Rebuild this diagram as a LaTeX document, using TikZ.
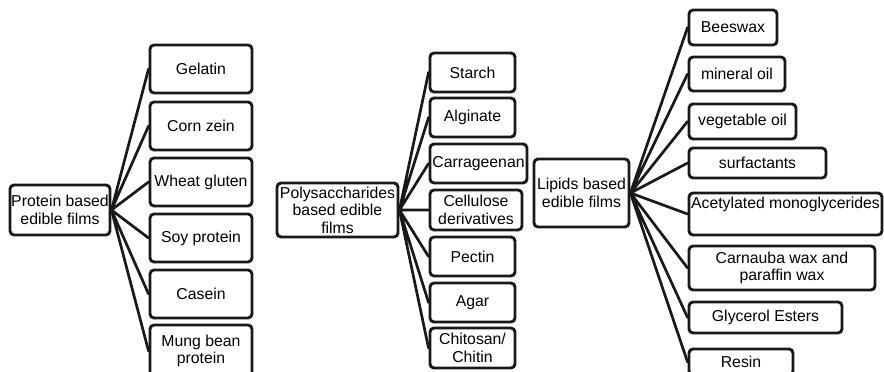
\documentclass[tikz,border=0pt]{standalone}
\usepackage{fontspec}
\setmainfont{Liberation Sans}
\begin{document}
\begin{tikzpicture}[x=1pt,y=-1pt, line join=round, line cap=round,
		box/.style={draw=black!90,line width=2.9pt,rounded corners=4pt,align=center,inner sep=0.5pt,
			font=\fontsize{15.8}{17.5}\selectfont},
		link/.style={draw=black!90,line width=2.7pt}]
		\useasboundingbox (0,0) rectangle (884,372);
		\clip (0,0) rectangle (884,372);
		%protein group
		\node[box,minimum width=100pt,minimum height=50pt] (protein) at (60,210) {Protein based\\edible films};
		\node[box,minimum width=102pt,minimum height=48pt] (gelatin) at (201,69) {Gelatin};
		\node[box,minimum width=102pt,minimum height=48pt] (corn) at (201,126) {Corn zein};
		\node[box,minimum width=102pt,minimum height=48pt] (wheat) at (201,182) {Wheat gluten};
		\node[box,minimum width=102pt,minimum height=48pt] (soy) at (201,238) {Soy protein};
		\node[box,minimum width=102pt,minimum height=48pt] (casein) at (201,294) {Casein};
		\node[box,minimum width=102pt,minimum height=52pt] (mung) at (201,351) {Mung bean\\protein};
		\draw[link] (protein.east)--(gelatin.west) (protein.east)--(corn.west)
			(protein.east)--(wheat.west) (protein.east)--(soy.west)
			(protein.east)--(casein.west) (protein.east)--(mung.west);
		%polysaccharides group
		\node[box,minimum width=121pt,minimum height=54pt] (poly) at (337.5,210) {Polysaccharides\\based edible\\films};
		\node[box,minimum width=85pt,minimum height=39pt] (starch) at (472.5,72.5) {Starch};
		\node[box,minimum width=85pt,minimum height=39pt] (alginate) at (472.5,117.5) {Alginate};
		\node[box,minimum width=97pt,minimum height=39pt] (carra) at (478.5,163.5) {Carrageenan};
		\node[box,minimum width=92pt,minimum height=40pt] (cellu) at (476,210) {Cellulose\\derivatives};
		\node[box,minimum width=85pt,minimum height=39pt] (pectin) at (472.5,256.5) {Pectin};
		\node[box,minimum width=85pt,minimum height=39pt] (agar) at (472.5,302.5) {Agar};
		\node[box,minimum width=85pt,minimum height=40pt] (chitosan) at (472.5,348) {Chitosan/\\Chitin};
		\draw[link] (poly.east)--(starch.west) (poly.east)--(alginate.west)
			(poly.east)--(carra.west) (poly.east)--(cellu.west)
			(poly.east)--(pectin.west) (poly.east)--(agar.west)
			(poly.east)--(chitosan.west);
		%lipids group
		\node[box,minimum width=95pt,minimum height=68pt] (lipid) at (581.5,193) {Lipids based\\edible films};
		\node[box,minimum width=88pt,minimum height=35pt] (beeswax) at (733,27.5) {Beeswax};
		\node[box,minimum width=96pt,minimum height=34pt] (mineral) at (737,74) {mineral oil};
		\node[box,minimum width=107pt,minimum height=35pt] (veg) at (742.5,121.5) {vegetable oil};
		\node[box,minimum width=137pt,minimum height=30pt] (surf) at (757.5,163) {surfactants};
		\node[box,minimum width=193pt,minimum height=42pt] (acetyl) at (785.5,214) {Acetylated monoglycerides\\\strut};
		\node[box,minimum width=186pt,minimum height=44pt] (carnauba) at (782,268) {Carnauba wax and\\paraffin wax};
		\node[box,minimum width=153pt,minimum height=31pt] (glycerol) at (765.5,317.5) {Glycerol Esters};
		\node[box,minimum width=104pt,minimum height=26pt] (resin) at (741,362) {Resin};
		\draw[link] (lipid.east)--(beeswax.west) (lipid.east)--(mineral.west)
			(lipid.east)--(veg.west) (lipid.east)--(surf.west)
			(lipid.east)--(acetyl.west) (lipid.east)--(carnauba.west)
			(lipid.east)--(glycerol.west) (lipid.east)--(resin.west);
	\end{tikzpicture}
\end{document}
